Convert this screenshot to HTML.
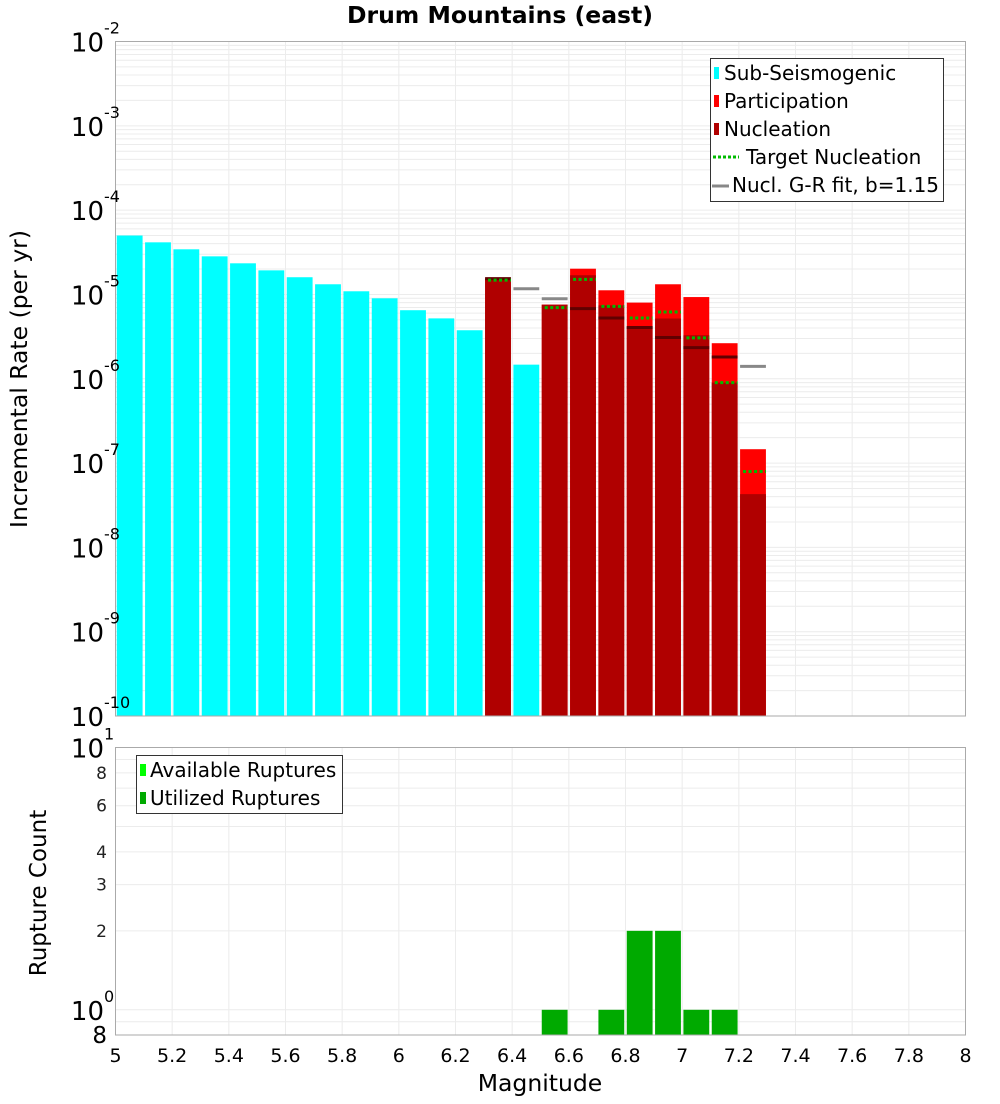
<!DOCTYPE html>
<html><head><meta charset="utf-8">
<style>
body{margin:0;background:#fff;width:1000px;height:1100px;overflow:hidden;font-family:"DejaVu Sans","Liberation Sans",sans-serif;}
svg text{font-family:"DejaVu Sans","Liberation Sans",sans-serif;}
</style></head>
<body>
<svg id="chart" width="1000" height="1100" xmlns="http://www.w3.org/2000/svg">
<text x="500" y="23" text-anchor="middle" font-size="23.5" font-weight="bold">Drum Mountains (east)</text>
<g id="gtop"></g>
<g id="gbot"></g>
<text transform="translate(27,379) rotate(-90)" text-anchor="middle" font-size="23.5">Incremental Rate (per yr)</text>
<text transform="translate(46,893) rotate(-90)" text-anchor="middle" font-size="23">Rupture Count</text>
<text x="540" y="1091" text-anchor="middle" font-size="23.5">Magnitude</text>
<g>
<rect x="710.5" y="58.5" width="233" height="143" fill="#fff" stroke="#333"/>
<rect x="714" y="67" width="5" height="12" fill="#00ffff"/>
<text x="724" y="80" font-size="20">Sub-Seismogenic</text>
<rect x="714" y="95" width="5" height="12" fill="#ff0000"/>
<text x="724" y="108" font-size="20">Participation</text>
<rect x="714" y="123" width="5" height="12" fill="#b00000"/>
<text x="724" y="136" font-size="20">Nucleation</text>
<line x1="713" y1="157" x2="739" y2="157" stroke="#00bb00" stroke-width="3" stroke-dasharray="3,2"/>
<text x="746" y="164" font-size="20">Target Nucleation</text>
<line x1="712" y1="186" x2="729" y2="186" stroke="#888" stroke-width="3"/>
<text x="732" y="192" font-size="20">Nucl. G-R fit, b=1.15</text>
</g>
<g>
<rect x="136.5" y="755.5" width="206" height="58" fill="#fff" stroke="#333"/>
<rect x="140" y="764" width="6" height="12" fill="#00ff00"/>
<text x="150" y="777" font-size="20">Available Ruptures</text>
<rect x="140" y="792" width="6" height="12" fill="#00aa00"/>
<text x="150" y="805" font-size="20">Utilized Ruptures</text>
</g>
</svg>
<script>
const subBins=[5.05,5.15,5.25,5.35,5.45,5.55,5.65,5.75,5.85,5.95,6.05,6.15,6.25,6.45];
const subVals=[5.0e-5,4.15e-5,3.43e-5,2.83e-5,2.34e-5,1.93e-5,1.60e-5,1.32e-5,1.09e-5,9.0e-6,6.5e-6,5.2e-6,3.76e-6,1.47e-6];
const supBins=[6.35,6.55,6.65,6.75,6.85,6.95,7.05,7.15,7.25];
const partVals=[1.54e-5,7.57e-6,2.02e-5,1.12e-5,8.0e-6,1.32e-5,9.31e-6,2.64e-6,1.46e-7];
const nuclVals=[1.54e-5,7.57e-6,1.69e-5,7.43e-6,4.19e-6,5.18e-6,3.28e-6,9.0e-7,4.28e-8];
const targetVals=[1.48e-5,6.98e-6,1.51e-5,7.23e-6,5.26e-6,6.19e-6,3.05e-6,9.0e-7,7.94e-8];
const grBins=[6.35,6.45,6.55,6.65,6.75,6.85,6.95,7.05,7.15,7.25];
const grVals=[1.54e-5,1.17e-5,8.9e-6,6.79e-6,5.26e-6,4.05e-6,3.08e-6,2.34e-6,1.81e-6,1.40e-6];
const countBins=[6.55,6.75,6.85,6.95,7.05,7.15];
const countVals=[1,1,2,2,1,1];
const xTicks=["5","5.2","5.4","5.6","5.8","6","6.2","6.4","6.6","6.8","7","7.2","7.4","7.6","7.8","8"];
const topExps=[-2,-3,-4,-5,-6,-7,-8,-9,-10];
const botTicks=[8,6,4,3,2];

const NS="http://www.w3.org/2000/svg";
const L=115.5,R=965.5,T1=41.5,B1=716,T2=747.5,B2=1035;
const xs=m=>L+(m-5)/3*(R-L);
const y1=v=>T1+(-2-Math.log10(v))*(B1-T1)/8;
const y2=v=>T2+(1-Math.log10(v))*262.3;
function mk(p,tag,a){const e=document.createElementNS(NS,tag);for(const k in a)e.setAttribute(k,a[k]);p.appendChild(e);return e;}
const gTop=document.getElementById('gtop'),gBot=document.getElementById('gbot');

mk(gTop,'rect',{x:L,y:T1,width:R-L,height:B1-T1,fill:'#fff'});
for(let e=-10;e<-2;e++)for(let k=1;k<10;k++){const yy=y1(k*Math.pow(10,e));
 const g=mk(gTop,'line',{x1:L,x2:R,y1:yy,y2:yy,stroke:'#ececec'});
 
 }
xTicks.forEach(t=>{const g=mk(gTop,'line',{x1:xs(+t),x2:xs(+t),y1:T1,y2:B1,stroke:'#ececec'});
 
 
 const g2=mk(gBot,'line',{x1:xs(+t),x2:xs(+t),y1:T2,y2:B2,stroke:'#ececec'});
 
 });
const bw=(xs(5.1)-xs(5))-2.5;
subBins.forEach((m,i)=>{const yy=y1(subVals[i]);const r=mk(gTop,'rect',{x:xs(m)-bw/2,y:yy,width:bw,height:B1-yy,fill:'#00ffff'});
 
 });
supBins.forEach((m,i)=>{let yy=y1(partVals[i]);const r=mk(gTop,'rect',{x:xs(m)-bw/2,y:yy,width:bw,height:B1-yy,fill:'#ff0000'});
 
 
 yy=y1(nuclVals[i]);const n=mk(gTop,'rect',{x:xs(m)-bw/2,y:yy,width:bw,height:B1-yy,fill:'#b00000'});
 
 });
grBins.forEach((m,i)=>{const yy=y1(grVals[i]);const j=supBins.indexOf(m);const inside=j>=0&&grVals[i]<=partVals[j]*1.02;
 const l=mk(gTop,'line',{x1:xs(m)-bw/2,x2:xs(m)+bw/2,y1:yy,y2:yy,stroke:inside?'#600000':'#888',"stroke-width":3});
 
 });
supBins.forEach((m,i)=>{const yy=y1(targetVals[i]);const l=mk(gTop,'line',{x1:xs(m)-bw/2+3,x2:xs(m)+bw/2,y1:yy,y2:yy,stroke:'#00bb00',"stroke-width":3,"stroke-dasharray":"3,2.5"});
 
 });
mk(gTop,'rect',{x:L,y:T1,width:R-L,height:B1-T1,fill:'none',stroke:'#aaa'});
topExps.forEach(e=>{const yy=y1(Math.pow(10,e));const t=mk(gTop,'text',{x:104,y:yy+10,"text-anchor":"end","font-size":26});
 
 
 t.textContent='10';const s=mk(gTop,'text',{x:104,y:yy-8,"font-size":16});s.textContent=String(e);
 
 });

for(let v=0.8;v<=10.01;v+=(v<0.99?0.1:1)){const yy=y2(v);if(yy<T2-1||yy>B2)continue;
 const g=mk(gBot,'line',{x1:L,x2:R,y1:yy,y2:yy,stroke:'#ececec'});
 
 }
countBins.forEach((m,i)=>{const yy=y2(countVals[i]);const r=mk(gBot,'rect',{x:xs(m)-bw/2,y:yy,width:bw,height:B2-yy,fill:'#00aa00'});
 
 });
mk(gBot,'rect',{x:L,y:T2,width:R-L,height:B2-T2,fill:'none',stroke:'#aaa'});
botTicks.forEach(v=>{const t=mk(gBot,'text',{x:107,y:y2(v)+6,"text-anchor":"end","font-size":17,fill:'#222'});t.textContent=v;
 
 });
[[1,'1'],[0,'0']].forEach(([e,s])=>{const yy=y2(Math.pow(10,e));const t=mk(gBot,'text',{x:104,y:yy+10,"text-anchor":"end","font-size":26});t.textContent='10';
 
 
 const u=mk(gBot,'text',{x:104,y:yy-8,"font-size":16});u.textContent=s;
 
 });
{const t=mk(gBot,'text',{x:107,y:1043,"text-anchor":"end","font-size":23});t.textContent='8';
 
 }
xTicks.forEach(s=>{const t=mk(gBot,'text',{x:xs(+s),y:1062,"text-anchor":"middle","font-size":19});t.textContent=s;
 
 });
</script>
</body></html>
